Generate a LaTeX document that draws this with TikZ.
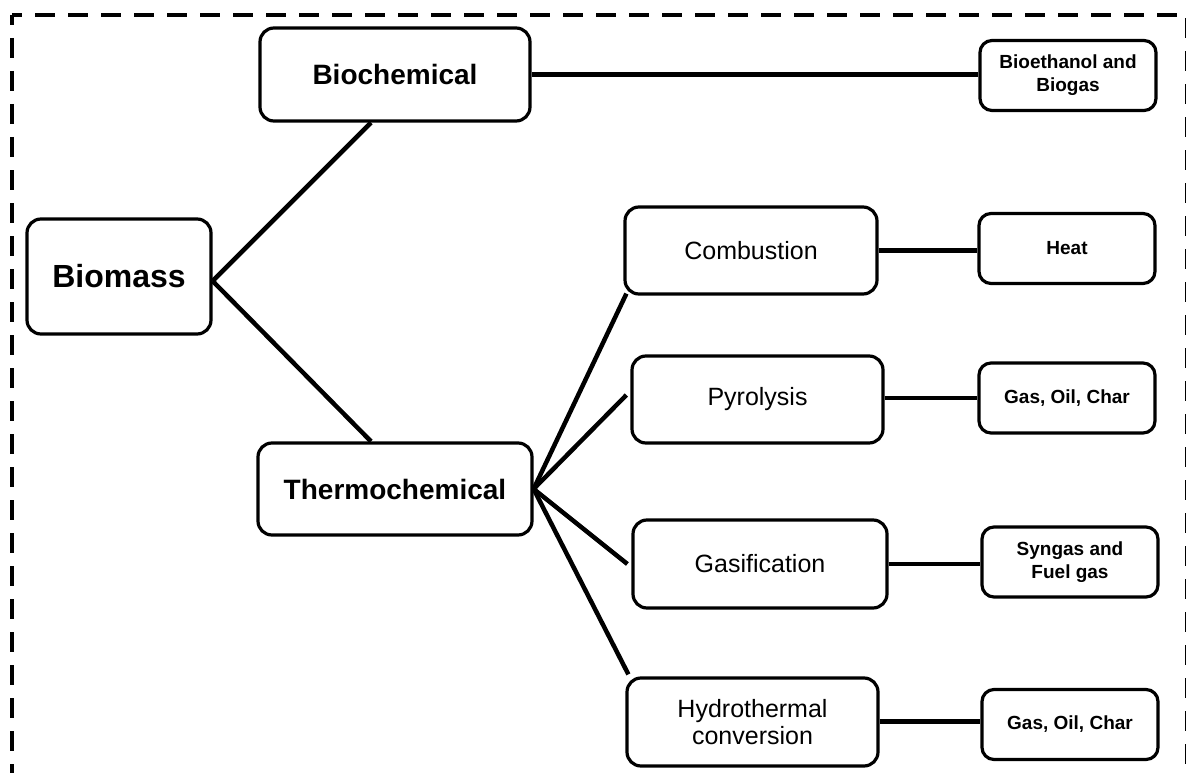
\documentclass[tikz,border=0pt]{standalone}
\usepackage{fontspec}
\setmainfont{Liberation Sans}
\usetikzlibrary{calc}
\begin{document}
\begin{tikzpicture}[x=1pt,y=-1pt,
  box/.style={draw, line width=3.2pt, rounded corners=14pt, inner sep=0pt, align=center},
  bigbox/.style={box, font=\fontsize{32}{38}\selectfont\bfseries},
  midbox/.style={box, font=\fontsize{28}{33}\selectfont\bfseries},
  procbox/.style={box, font=\fontsize{25}{27.5}\selectfont},
  prodbox/.style={box, rounded corners=12pt, minimum width=176pt, minimum height=70pt, font=\fontsize{19}{23}\selectfont\bfseries},
  conn/.style={line width=4.5pt},
  border/.style={line width=4.5pt, dash pattern=on 20pt off 13pt}]
\useasboundingbox (0,0) rectangle (1186,773);
\draw[border, dash phase=10pt] (12,15) -- (12,780);
\draw[border, dash phase=10pt] (12,15) -- (1187,15) -- (1187,780);

\node[bigbox, minimum width=184pt, minimum height=115pt] (biomass) at (119,276.5) {Biomass};
\node[midbox, minimum width=270pt, minimum height=93pt] (biochem) at (395,74.5) {Biochemical};
\node[midbox, minimum width=274pt, minimum height=92pt] (thermo) at (395,489) {Thermochemical};

\node[procbox, minimum width=252pt, minimum height=87pt] (comb) at (751,250.5) {Combustion};
\node[procbox, minimum width=251pt, minimum height=87pt] (pyro) at (757.5,399.5) {Pyrolysis};
\node[procbox, minimum width=254pt, minimum height=88pt] (gasif) at (760,564) {Gasification};
\node[procbox, minimum width=251pt, minimum height=88pt] (hydro) at (752.5,722) {Hydrothermal\\conversion};

\node[prodbox] (bioeth) at (1068,75.5) {Bioethanol and\\Biogas};
\node[prodbox] (heat) at (1067,248.5) {Heat};
\node[prodbox] (gas1) at (1067,398) {Gas, Oil, Char};
\node[prodbox] (syngas) at (1070,562) {Syngas and\\Fuel gas};
\node[prodbox] (gas2) at (1070,724.5) {Gas, Oil, Char};

\coordinate (bj) at ($(biomass.east)+(0,4.5)$);
\draw[conn] (bj) -- ([xshift=-24pt]biochem.south);
\draw[conn] (bj) -- ([xshift=-24pt]thermo.north);

\draw[conn] (thermo.east) -- ([xshift=3pt,yshift=2pt]comb.south west);
\draw[conn] (thermo.east) -- ([xshift=-4pt,yshift=4.5pt]pyro.west);
\draw[conn] (thermo.east) -- ([xshift=-4pt]gasif.west);
\draw[conn] (thermo.east) -- ([xshift=3pt,yshift=2pt]hydro.north west);

\draw[conn] (biochem.east) -- (biochem.east -| bioeth.west);
\draw[conn] (comb.east) -- (comb.east -| heat.west);
\draw[conn] (gas1.west -| pyro.east) -- (gas1.west);
\draw[conn] (gasif.east) -- (gasif.east -| syngas.west);
\draw[conn] ([yshift=3pt]gas2.west -| hydro.east) -- ([yshift=3pt]gas2.west);
\end{tikzpicture}
\end{document}
